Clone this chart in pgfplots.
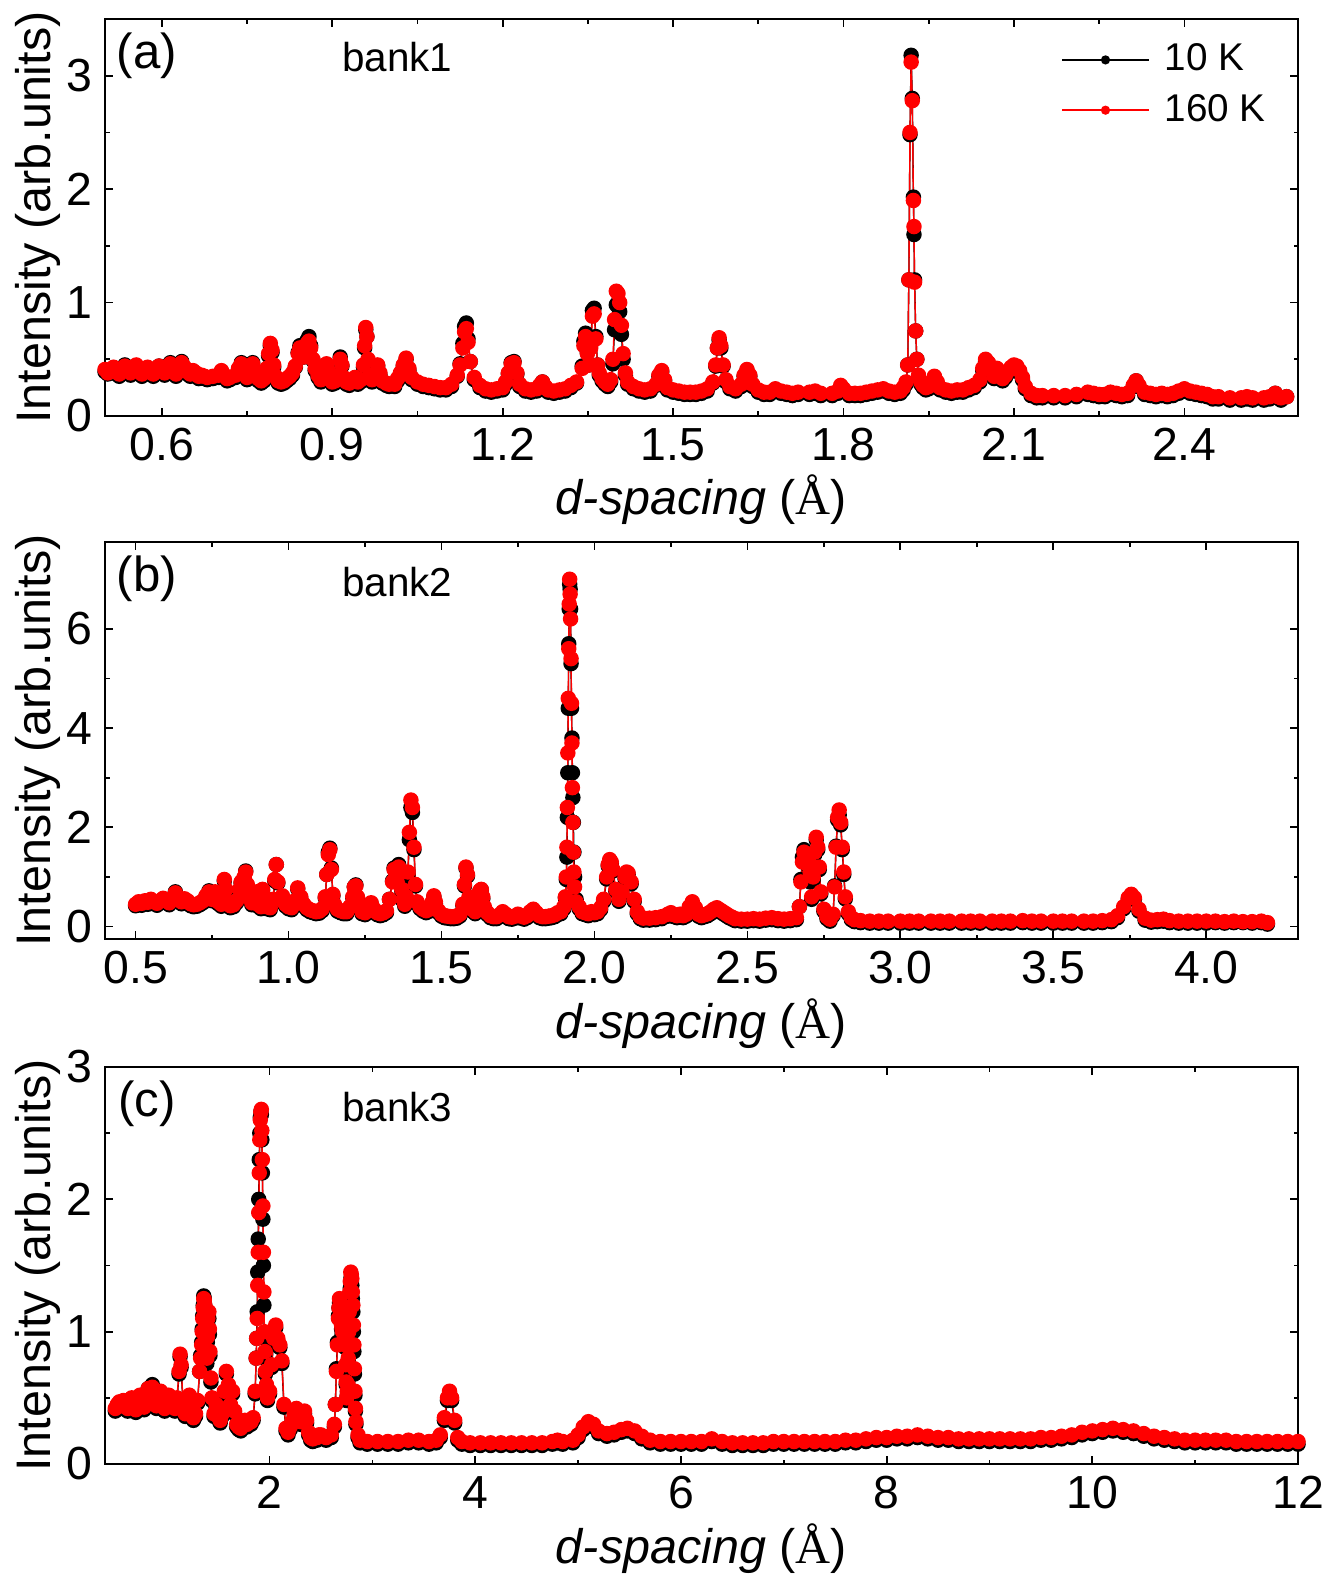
\documentclass[border=0pt]{standalone}
\usepackage{fontspec}
\setmainfont{Liberation Sans}
\newfontfamily\serifA{Liberation Serif}
\usepackage{pgfplots}
\usepackage{pgfplotstable}
\pgfplotsset{compat=1.18}

\pgfplotsset{
  panel/.style={
    scale only axis,
    width=11.93cm,
    axis line style={line width=0.6pt},
    tick align=inside, tick pos=both,
    major tick length=0.08cm, minor tick length=0.045cm,
    every tick/.style={black, line width=0.5pt},
    minor x tick num=1, minor y tick num=1,
    /pgf/number format/assume math mode=true,
    ticklabel style={font=\fontsize{13.2}{15}\selectfont},
    label style={font=\fontsize{13.8}{16}\selectfont},
    xlabel={\textit{d-spacing} ({\serifA Å})},
    ylabel={Intensity (arb.units)},
    xlabel style={at={(axis description cs:0.5,0)}, anchor=base, yshift=-0.99cm},
    ylabel style={at={(axis description cs:-0.056,0.5)}, anchor=center},
  },
  k10/.style={black, line width=0.4pt, mark=*, mark size=2.0pt, mark options={solid, fill=black}},
  k160/.style={red, line width=0.4pt, mark=*, mark size=2.0pt, mark options={solid, fill=red}},
}

\begin{document}

% bank 1
\pgfplotstableread{
d k10 k160
0.500 0.39 0.41
0.505 0.37 0.38
0.510 0.38 0.40
0.515 0.42 0.43
0.520 0.37 0.39
0.525 0.35 0.37
0.530 0.38 0.40
0.535 0.45 0.44
0.540 0.38 0.40
0.545 0.36 0.38
0.550 0.41 0.42
0.555 0.44 0.45
0.560 0.38 0.40
0.565 0.35 0.37
0.570 0.37 0.39
0.575 0.42 0.43
0.580 0.39 0.41
0.585 0.35 0.37
0.590 0.38 0.40
0.595 0.44 0.44
0.600 0.39 0.41
0.605 0.36 0.38
0.610 0.39 0.41
0.615 0.47 0.46
0.620 0.40 0.42
0.625 0.35 0.37
0.630 0.38 0.40
0.635 0.48 0.47
0.640 0.42 0.43
0.645 0.37 0.39
0.650 0.35 0.37
0.655 0.38 0.40
0.660 0.36 0.38
0.665 0.33 0.35
0.670 0.34 0.36
0.675 0.33 0.35
0.680 0.32 0.34
0.690 0.33 0.35
0.700 0.34 0.36
0.705 0.39 0.40
0.710 0.34 0.36
0.715 0.31 0.33
0.720 0.32 0.34
0.730 0.34 0.36
0.735 0.41 0.42
0.740 0.47 0.46
0.745 0.38 0.40
0.750 0.32 0.34
0.755 0.36 0.38
0.760 0.47 0.46
0.765 0.38 0.40
0.770 0.31 0.33
0.775 0.29 0.31
0.780 0.31 0.33
0.785 0.40 0.42
0.788 0.53 0.55
0.791 0.62 0.64
0.794 0.56 0.58
0.797 0.43 0.45
0.800 0.33 0.35
0.805 0.29 0.31
0.810 0.28 0.30
0.815 0.29 0.31
0.820 0.31 0.33
0.825 0.33 0.35
0.830 0.36 0.38
0.835 0.43 0.44
0.840 0.56 0.55
0.843 0.62 0.60
0.846 0.56 0.55
0.850 0.52 0.52
0.853 0.60 0.58
0.856 0.67 0.64
0.859 0.70 0.66
0.862 0.62 0.60
0.866 0.49 0.50
0.870 0.40 0.42
0.875 0.34 0.36
0.880 0.30 0.32
0.885 0.33 0.35
0.890 0.44 0.46
0.893 0.38 0.40
0.897 0.30 0.32
0.900 0.28 0.30
0.905 0.29 0.31
0.910 0.33 0.35
0.914 0.52 0.50
0.917 0.44 0.45
0.920 0.32 0.34
0.925 0.28 0.30
0.930 0.27 0.29
0.935 0.29 0.31
0.940 0.32 0.34
0.945 0.28 0.30
0.950 0.30 0.32
0.955 0.43 0.45
0.957 0.60 0.62
0.959 0.76 0.78
0.961 0.70 0.70
0.963 0.48 0.50
0.966 0.34 0.36
0.970 0.30 0.32
0.975 0.34 0.36
0.980 0.44 0.45
0.984 0.36 0.38
0.988 0.29 0.31
0.995 0.27 0.29
1.000 0.26 0.28
1.010 0.26 0.28
1.015 0.31 0.33
1.020 0.36 0.38
1.025 0.44 0.45
1.030 0.50 0.51
1.035 0.40 0.42
1.040 0.32 0.34
1.050 0.28 0.30
1.060 0.26 0.28
1.070 0.25 0.27
1.080 0.24 0.26
1.090 0.23 0.25
1.100 0.23 0.25
1.110 0.26 0.28
1.120 0.35 0.36
1.125 0.46 0.45
1.130 0.64 0.60
1.133 0.79 0.74
1.136 0.82 0.77
1.139 0.68 0.65
1.143 0.48 0.48
1.150 0.32 0.34
1.160 0.25 0.27
1.170 0.22 0.24
1.180 0.21 0.23
1.190 0.22 0.24
1.200 0.23 0.25
1.205 0.28 0.30
1.210 0.37 0.38
1.215 0.47 0.46
1.220 0.48 0.47
1.225 0.37 0.38
1.230 0.26 0.28
1.240 0.22 0.24
1.250 0.21 0.23
1.260 0.22 0.24
1.265 0.26 0.27
1.270 0.30 0.30
1.275 0.25 0.26
1.280 0.21 0.23
1.290 0.20 0.22
1.300 0.21 0.23
1.310 0.22 0.24
1.320 0.25 0.27
1.330 0.29 0.30
1.340 0.44 0.42
1.343 0.66 0.62
1.346 0.73 0.70
1.349 0.56 0.55
1.352 0.45 0.45
1.355 0.63 0.60
1.358 0.93 0.88
1.361 0.95 0.90
1.364 0.70 0.68
1.367 0.45 0.45
1.370 0.36 0.38
1.375 0.31 0.33
1.380 0.28 0.30
1.385 0.26 0.28
1.390 0.30 0.32
1.394 0.46 0.50
1.397 0.76 0.85
1.400 0.98 1.10
1.403 1.00 1.08
1.406 0.92 1.00
1.409 0.72 0.80
1.412 0.50 0.55
1.416 0.36 0.38
1.420 0.28 0.30
1.430 0.24 0.26
1.440 0.22 0.24
1.450 0.21 0.23
1.460 0.22 0.24
1.470 0.27 0.28
1.475 0.35 0.36
1.480 0.39 0.40
1.485 0.31 0.32
1.490 0.23 0.25
1.500 0.21 0.23
1.510 0.20 0.22
1.520 0.19 0.21
1.530 0.19 0.21
1.540 0.19 0.21
1.550 0.20 0.22
1.560 0.22 0.24
1.570 0.29 0.30
1.575 0.44 0.45
1.578 0.60 0.60
1.581 0.67 0.69
1.584 0.60 0.62
1.588 0.44 0.45
1.593 0.30 0.32
1.600 0.24 0.26
1.610 0.22 0.24
1.620 0.26 0.28
1.625 0.35 0.36
1.630 0.40 0.41
1.635 0.35 0.36
1.640 0.26 0.28
1.650 0.21 0.23
1.660 0.19 0.21
1.670 0.19 0.21
1.680 0.22 0.24
1.690 0.20 0.22
1.700 0.19 0.21
1.710 0.18 0.20
1.720 0.19 0.21
1.740 0.19 0.21
1.750 0.20 0.22
1.760 0.18 0.20
1.780 0.18 0.20
1.790 0.20 0.22
1.795 0.25 0.27
1.800 0.22 0.24
1.810 0.18 0.20
1.820 0.18 0.20
1.830 0.18 0.20
1.840 0.19 0.21
1.850 0.20 0.22
1.860 0.21 0.23
1.870 0.22 0.24
1.880 0.20 0.22
1.890 0.19 0.21
1.900 0.20 0.22
1.905 0.23 0.25
1.910 0.28 0.30
1.913 0.45 0.45
1.915 1.20 1.20
1.917 2.48 2.50
1.919 3.18 3.12
1.921 2.80 2.78
1.923 1.93 1.90
1.924 1.60 1.67
1.925 1.20 1.18
1.927 0.75 0.75
1.929 0.50 0.50
1.932 0.34 0.36
1.936 0.28 0.30
1.940 0.25 0.27
1.945 0.23 0.25
1.950 0.24 0.26
1.955 0.28 0.30
1.960 0.34 0.35
1.965 0.28 0.30
1.970 0.23 0.25
1.980 0.21 0.23
1.990 0.20 0.22
2.000 0.21 0.23
2.010 0.21 0.23
2.020 0.23 0.25
2.030 0.25 0.27
2.040 0.30 0.32
2.045 0.40 0.42
2.050 0.48 0.50
2.055 0.45 0.47
2.060 0.38 0.40
2.065 0.33 0.35
2.070 0.40 0.42
2.075 0.36 0.38
2.080 0.31 0.33
2.085 0.34 0.36
2.090 0.38 0.40
2.095 0.41 0.43
2.100 0.43 0.45
2.105 0.42 0.44
2.110 0.38 0.40
2.115 0.32 0.34
2.120 0.24 0.26
2.130 0.18 0.20
2.140 0.16 0.18
2.150 0.16 0.18
2.170 0.16 0.18
2.190 0.16 0.18
2.210 0.17 0.19
2.230 0.19 0.21
2.240 0.18 0.20
2.250 0.17 0.19
2.260 0.17 0.19
2.270 0.19 0.21
2.280 0.18 0.20
2.290 0.17 0.19
2.300 0.18 0.20
2.310 0.26 0.27
2.315 0.31 0.31
2.320 0.26 0.27
2.330 0.19 0.21
2.340 0.18 0.20
2.350 0.17 0.19
2.360 0.18 0.20
2.370 0.17 0.19
2.380 0.18 0.20
2.390 0.20 0.22
2.400 0.22 0.24
2.410 0.20 0.22
2.420 0.19 0.21
2.430 0.18 0.20
2.440 0.17 0.19
2.450 0.15 0.17
2.460 0.15 0.17
2.480 0.14 0.16
2.500 0.14 0.16
2.510 0.15 0.17
2.520 0.14 0.16
2.540 0.14 0.16
2.550 0.15 0.17
2.560 0.20 0.20
2.565 0.16 0.17
2.570 0.14 0.16
2.580 0.17 0.17
}\bankA

% bank 2
\pgfplotstableread{
d k10 k160
0.50 0.42 0.45
0.51 0.46 0.50
0.52 0.43 0.47
0.53 0.48 0.52
0.54 0.45 0.49
0.55 0.52 0.55
0.56 0.46 0.50
0.57 0.43 0.47
0.58 0.48 0.52
0.59 0.55 0.57
0.60 0.48 0.52
0.61 0.44 0.48
0.62 0.52 0.55
0.63 0.70 0.68
0.64 0.55 0.58
0.65 0.46 0.50
0.66 0.52 0.56
0.67 0.48 0.52
0.68 0.42 0.46
0.69 0.40 0.44
0.70 0.41 0.45
0.71 0.44 0.48
0.72 0.48 0.52
0.73 0.60 0.62
0.74 0.72 0.70
0.75 0.52 0.55
0.76 0.68 0.70
0.77 0.46 0.50
0.78 0.41 0.45
0.785 0.56 0.60
0.79 0.92 0.95
0.795 0.72 0.75
0.80 0.46 0.50
0.81 0.38 0.42
0.82 0.40 0.44
0.83 0.48 0.52
0.84 0.72 0.75
0.845 0.88 0.90
0.85 0.76 0.80
0.855 0.98 1.00
0.86 1.12 1.10
0.865 0.82 0.85
0.87 0.56 0.60
0.88 0.44 0.48
0.89 0.56 0.60
0.895 0.66 0.70
0.90 0.41 0.45
0.91 0.36 0.40
0.915 0.72 0.75
0.92 0.56 0.60
0.93 0.36 0.40
0.94 0.34 0.38
0.95 0.52 0.55
0.955 0.92 0.95
0.96 1.25 1.25
0.965 0.88 0.90
0.97 0.51 0.55
0.98 0.58 0.62
0.99 0.41 0.45
1.00 0.36 0.40
1.01 0.34 0.38
1.02 0.48 0.52
1.03 0.76 0.78
1.04 0.56 0.60
1.05 0.41 0.45
1.06 0.34 0.38
1.07 0.30 0.34
1.08 0.28 0.32
1.09 0.26 0.30
1.10 0.27 0.31
1.11 0.32 0.36
1.12 0.58 0.60
1.125 1.05 1.05
1.13 1.50 1.45
1.135 1.58 1.55
1.14 1.18 1.15
1.145 0.62 0.65
1.15 0.41 0.45
1.16 0.31 0.35
1.17 0.28 0.32
1.18 0.26 0.30
1.19 0.26 0.30
1.20 0.36 0.40
1.21 0.58 0.60
1.215 0.80 0.80
1.22 0.84 0.82
1.225 0.58 0.60
1.23 0.36 0.40
1.24 0.26 0.30
1.25 0.24 0.28
1.26 0.28 0.32
1.27 0.46 0.48
1.28 0.31 0.35
1.29 0.24 0.28
1.30 0.22 0.26
1.31 0.24 0.28
1.32 0.28 0.32
1.33 0.55 0.55
1.34 0.92 0.90
1.345 1.18 1.15
1.35 1.02 1.00
1.355 0.92 0.90
1.36 1.25 1.20
1.365 1.12 1.10
1.37 0.72 0.75
1.375 0.51 0.55
1.38 0.41 0.45
1.385 0.56 0.60
1.39 1.02 1.10
1.395 1.75 1.90
1.40 2.40 2.55
1.405 2.30 2.40
1.41 1.55 1.60
1.415 0.82 0.85
1.42 0.46 0.50
1.43 0.36 0.40
1.44 0.31 0.35
1.45 0.28 0.32
1.46 0.31 0.35
1.47 0.46 0.50
1.475 0.60 0.62
1.48 0.46 0.50
1.49 0.28 0.32
1.50 0.21 0.25
1.51 0.18 0.22
1.52 0.17 0.21
1.53 0.16 0.20
1.54 0.16 0.20
1.55 0.17 0.21
1.56 0.21 0.25
1.57 0.42 0.45
1.575 0.82 0.85
1.58 1.18 1.20
1.585 1.02 1.05
1.59 0.56 0.60
1.60 0.31 0.35
1.61 0.26 0.30
1.62 0.46 0.50
1.625 0.70 0.72
1.63 0.74 0.75
1.635 0.56 0.60
1.64 0.36 0.40
1.65 0.24 0.28
1.66 0.18 0.22
1.67 0.16 0.20
1.68 0.16 0.20
1.69 0.20 0.24
1.70 0.26 0.30
1.71 0.21 0.25
1.72 0.16 0.20
1.73 0.15 0.19
1.74 0.17 0.21
1.75 0.21 0.25
1.76 0.17 0.21
1.77 0.15 0.19
1.78 0.18 0.22
1.79 0.26 0.30
1.80 0.31 0.35
1.81 0.24 0.28
1.82 0.18 0.22
1.83 0.16 0.20
1.84 0.16 0.20
1.85 0.17 0.21
1.86 0.18 0.22
1.87 0.20 0.24
1.88 0.24 0.28
1.89 0.26 0.30
1.90 0.36 0.40
1.905 0.58 0.60
1.908 0.95 1.00
1.91 1.40 1.60
1.9115 2.20 2.40
1.913 3.10 3.50
1.9145 4.40 4.60
1.916 5.70 5.60
1.9175 6.40 6.50
1.919 6.90 7.00
1.9205 6.80 6.70
1.922 6.40 6.20
1.9235 5.30 5.40
1.925 4.40 4.50
1.9265 3.80 3.70
1.928 3.10 2.80
1.9295 2.60 2.10
1.931 2.10 1.50
1.933 1.50 1.10
1.935 1.00 0.80
1.94 0.55 0.50
1.95 0.36 0.40
1.96 0.26 0.30
1.97 0.24 0.28
1.98 0.22 0.26
1.99 0.26 0.30
2.00 0.24 0.28
2.01 0.26 0.30
2.02 0.34 0.38
2.03 0.51 0.55
2.04 0.96 1.00
2.045 1.22 1.25
2.05 1.32 1.35
2.055 1.27 1.30
2.06 1.12 1.15
2.07 0.71 0.75
2.08 0.51 0.55
2.09 0.66 0.70
2.10 0.96 1.00
2.105 1.07 1.10
2.11 1.05 1.08
2.12 0.86 0.90
2.13 0.51 0.55
2.14 0.26 0.30
2.15 0.16 0.20
2.16 0.13 0.17
2.18 0.13 0.17
2.20 0.14 0.18
2.22 0.16 0.20
2.24 0.21 0.25
2.25 0.24 0.28
2.26 0.20 0.24
2.27 0.18 0.22
2.28 0.21 0.25
2.29 0.18 0.22
2.30 0.21 0.25
2.31 0.36 0.40
2.32 0.46 0.50
2.33 0.34 0.38
2.34 0.21 0.25
2.35 0.18 0.22
2.36 0.20 0.24
2.37 0.22 0.26
2.38 0.26 0.30
2.39 0.31 0.35
2.40 0.34 0.38
2.41 0.30 0.34
2.42 0.26 0.30
2.43 0.22 0.26
2.44 0.18 0.22
2.45 0.15 0.19
2.46 0.12 0.16
2.48 0.11 0.15
2.50 0.11 0.15
2.52 0.12 0.16
2.54 0.11 0.15
2.56 0.13 0.17
2.58 0.14 0.18
2.60 0.12 0.16
2.62 0.11 0.15
2.64 0.12 0.16
2.66 0.14 0.18
2.67 0.40 0.40
2.675 0.95 0.90
2.68 1.40 1.30
2.685 1.55 1.50
2.69 1.45 1.45
2.695 1.35 1.40
2.70 1.20 1.30
2.705 0.90 1.10
2.71 0.55 0.60
2.715 0.95 1.00
2.72 1.45 1.50
2.725 1.75 1.80
2.73 1.55 1.60
2.735 1.15 1.20
2.74 0.66 0.70
2.75 0.31 0.35
2.76 0.16 0.20
2.77 0.11 0.15
2.78 0.22 0.25
2.785 0.82 0.80
2.79 1.62 1.60
2.795 2.15 2.20
2.80 2.25 2.35
2.805 2.05 2.10
2.81 1.55 1.60
2.815 1.05 1.10
2.82 0.56 0.60
2.83 0.26 0.30
2.84 0.14 0.18
2.85 0.10 0.14
2.87 0.08 0.12
2.90 0.07 0.11
2.93 0.07 0.11
2.96 0.07 0.11
3.00 0.07 0.11
3.03 0.07 0.11
3.06 0.07 0.11
3.10 0.07 0.11
3.13 0.07 0.11
3.16 0.07 0.11
3.20 0.07 0.11
3.23 0.07 0.11
3.26 0.07 0.11
3.30 0.07 0.11
3.33 0.07 0.11
3.36 0.07 0.11
3.40 0.08 0.12
3.43 0.07 0.11
3.46 0.07 0.11
3.50 0.07 0.11
3.53 0.07 0.11
3.56 0.07 0.11
3.60 0.07 0.11
3.63 0.07 0.11
3.66 0.08 0.12
3.69 0.10 0.14
3.71 0.18 0.22
3.73 0.36 0.40
3.745 0.55 0.58
3.755 0.63 0.65
3.765 0.55 0.58
3.78 0.31 0.35
3.80 0.13 0.17
3.82 0.09 0.13
3.84 0.10 0.14
3.86 0.11 0.15
3.88 0.08 0.12
3.91 0.07 0.11
3.94 0.07 0.11
3.97 0.07 0.11
4.00 0.07 0.11
4.03 0.08 0.11
4.06 0.07 0.10
4.09 0.08 0.11
4.12 0.08 0.10
4.15 0.07 0.10
4.18 0.08 0.11
4.20 0.05 0.08
}\bankB

% bank 3
\pgfplotstableread{
d k10 k160
0.50 0.40 0.42
0.52 0.43 0.45
0.54 0.45 0.47
0.56 0.42 0.44
0.58 0.46 0.48
0.60 0.43 0.45
0.62 0.40 0.42
0.64 0.45 0.47
0.66 0.48 0.50
0.68 0.42 0.44
0.70 0.39 0.41
0.72 0.45 0.47
0.74 0.50 0.52
0.76 0.44 0.46
0.78 0.41 0.43
0.80 0.48 0.50
0.82 0.57 0.57
0.84 0.50 0.52
0.86 0.60 0.58
0.88 0.48 0.50
0.90 0.42 0.44
0.92 0.48 0.50
0.94 0.54 0.55
0.96 0.45 0.47
0.98 0.40 0.42
1.00 0.45 0.47
1.02 0.50 0.52
1.04 0.44 0.46
1.06 0.41 0.43
1.08 0.40 0.42
1.10 0.48 0.50
1.12 0.68 0.70
1.13 0.81 0.83
1.14 0.73 0.75
1.16 0.43 0.45
1.18 0.36 0.38
1.20 0.43 0.45
1.22 0.50 0.52
1.24 0.38 0.40
1.26 0.33 0.35
1.28 0.36 0.38
1.30 0.46 0.48
1.32 0.70 0.70
1.33 0.82 0.80
1.34 0.92 0.90
1.345 1.02 1.00
1.35 1.12 1.10
1.355 1.20 1.18
1.36 1.27 1.25
1.365 1.25 1.24
1.37 1.20 1.20
1.375 1.08 1.08
1.38 0.93 0.95
1.39 0.76 0.80
1.395 0.92 0.96
1.40 1.05 1.10
1.41 1.10 1.15
1.415 0.98 1.02
1.42 0.82 0.85
1.43 0.62 0.65
1.44 0.48 0.50
1.46 0.36 0.38
1.48 0.43 0.45
1.50 0.34 0.36
1.52 0.31 0.33
1.54 0.36 0.38
1.56 0.53 0.55
1.58 0.68 0.70
1.60 0.58 0.60
1.62 0.43 0.45
1.64 0.53 0.55
1.66 0.38 0.40
1.68 0.28 0.30
1.70 0.26 0.28
1.72 0.25 0.27
1.74 0.28 0.30
1.76 0.31 0.33
1.78 0.28 0.30
1.80 0.31 0.33
1.82 0.30 0.32
1.84 0.33 0.35
1.86 0.53 0.55
1.87 0.80 0.80
1.875 0.95 0.95
1.88 1.15 1.10
1.885 1.45 1.35
1.89 1.70 1.60
1.895 2.00 1.90
1.90 2.30 2.20
1.905 2.50 2.45
1.91 2.62 2.60
1.915 2.66 2.66
1.92 2.64 2.68
1.925 2.45 2.52
1.93 2.20 2.30
1.935 1.85 1.95
1.94 1.50 1.60
1.945 1.20 1.30
1.95 0.95 1.00
1.955 0.80 0.85
1.96 0.68 0.70
1.97 0.58 0.60
1.98 0.48 0.50
2.00 0.53 0.55
2.02 0.73 0.75
2.04 0.93 0.95
2.06 1.03 1.05
2.08 0.93 0.95
2.10 0.88 0.90
2.12 0.76 0.78
2.14 0.43 0.45
2.16 0.25 0.27
2.18 0.22 0.24
2.20 0.26 0.28
2.22 0.30 0.32
2.24 0.36 0.38
2.26 0.40 0.42
2.28 0.31 0.33
2.30 0.30 0.32
2.32 0.36 0.38
2.34 0.38 0.40
2.36 0.31 0.33
2.38 0.22 0.24
2.40 0.18 0.20
2.42 0.17 0.19
2.44 0.18 0.20
2.46 0.18 0.20
2.48 0.20 0.22
2.50 0.20 0.22
2.55 0.18 0.20
2.60 0.20 0.22
2.63 0.28 0.30
2.64 0.45 0.45
2.65 0.72 0.70
2.66 0.92 0.90
2.67 1.12 1.10
2.675 1.18 1.18
2.68 1.22 1.25
2.685 1.20 1.23
2.69 1.15 1.20
2.695 1.08 1.12
2.70 1.02 1.05
2.705 0.98 1.02
2.71 0.95 1.00
2.715 1.00 1.05
2.72 1.05 1.10
2.725 1.03 1.08
2.73 1.00 1.05
2.735 0.88 0.90
2.74 0.72 0.75
2.745 0.60 0.62
2.75 0.48 0.50
2.755 0.52 0.55
2.76 0.58 0.60
2.765 0.78 0.80
2.77 0.95 1.00
2.775 1.10 1.15
2.78 1.25 1.30
2.785 1.33 1.38
2.79 1.40 1.45
2.795 1.38 1.43
2.80 1.35 1.40
2.805 1.25 1.30
2.81 1.15 1.20
2.815 1.00 1.05
2.82 0.85 0.90
2.825 0.68 0.72
2.83 0.52 0.55
2.835 0.40 0.42
2.84 0.30 0.32
2.86 0.20 0.22
2.88 0.16 0.18
2.95 0.15 0.17
3.05 0.15 0.17
3.15 0.15 0.17
3.25 0.15 0.17
3.35 0.16 0.18
3.45 0.16 0.18
3.55 0.15 0.17
3.62 0.16 0.18
3.66 0.20 0.22
3.70 0.33 0.35
3.73 0.48 0.50
3.75 0.53 0.55
3.77 0.48 0.50
3.80 0.31 0.33
3.83 0.18 0.20
3.87 0.15 0.17
3.95 0.14 0.16
4.05 0.14 0.16
4.15 0.14 0.16
4.25 0.14 0.16
4.35 0.14 0.16
4.45 0.14 0.16
4.55 0.14 0.16
4.65 0.14 0.16
4.75 0.15 0.17
4.80 0.16 0.18
4.85 0.15 0.17
4.95 0.16 0.18
5.00 0.20 0.22
5.05 0.26 0.28
5.10 0.30 0.32
5.15 0.28 0.30
5.20 0.23 0.25
5.28 0.21 0.23
5.35 0.22 0.24
5.42 0.24 0.26
5.48 0.25 0.27
5.55 0.23 0.25
5.62 0.19 0.21
5.70 0.16 0.18
5.80 0.15 0.17
5.90 0.15 0.17
6.00 0.15 0.17
6.10 0.15 0.17
6.20 0.15 0.17
6.30 0.17 0.19
6.40 0.15 0.17
6.50 0.14 0.16
6.60 0.14 0.16
6.70 0.14 0.16
6.80 0.14 0.16
6.90 0.15 0.17
7.00 0.15 0.17
7.10 0.15 0.17
7.20 0.15 0.17
7.30 0.15 0.17
7.40 0.15 0.17
7.50 0.15 0.17
7.60 0.16 0.18
7.70 0.16 0.18
7.80 0.17 0.19
7.90 0.18 0.20
8.00 0.18 0.20
8.10 0.19 0.21
8.20 0.19 0.21
8.30 0.20 0.22
8.40 0.19 0.21
8.50 0.18 0.20
8.60 0.18 0.20
8.70 0.17 0.19
8.80 0.17 0.19
8.90 0.17 0.19
9.00 0.17 0.19
9.10 0.17 0.19
9.20 0.17 0.19
9.30 0.17 0.19
9.40 0.17 0.19
9.50 0.18 0.20
9.60 0.18 0.20
9.70 0.19 0.21
9.80 0.20 0.22
9.90 0.22 0.24
10.00 0.23 0.25
10.10 0.24 0.26
10.20 0.25 0.27
10.30 0.24 0.26
10.40 0.23 0.25
10.50 0.21 0.23
10.60 0.19 0.21
10.70 0.18 0.20
10.80 0.17 0.19
10.90 0.16 0.18
11.00 0.16 0.18
11.10 0.16 0.18
11.20 0.16 0.18
11.30 0.16 0.18
11.40 0.15 0.17
11.50 0.15 0.17
11.60 0.15 0.17
11.70 0.15 0.17
11.80 0.15 0.17
11.90 0.15 0.17
12.00 0.15 0.17
}\bankC

\begin{tikzpicture}
\useasboundingbox (0,0) rectangle (13.29,-15.83);

% (a) bank1
\begin{axis}[panel, at={(1.05cm,-4.16cm)}, anchor=south west, height=3.97cm,
  xmin=0.5, xmax=2.6, ymin=0, ymax=3.5,
  xtick={0.6,0.9,1.2,1.5,1.8,2.1,2.4}, ytick={0,1,2,3},
  xticklabel style={/pgf/number format/fixed, /pgf/number format/fixed zerofill, /pgf/number format/precision=1},
  legend style={draw=none, fill=none, at={(axis description cs:0.801,0.962)}, anchor=north west,
    font=\fontsize{11}{13}\selectfont, inner sep=0pt, row sep=0pt,
    nodes={inner xsep=0.15cm, inner ysep=0.09cm}},
  legend cell align=left,
  legend image code/.code={\draw[#1, mark size=1.1pt, mark repeat=2, mark phase=2] plot coordinates {(0cm,0cm) (0.435cm,0cm) (0.87cm,0cm)};},
]
\addplot[k10] table[x=d, y=k10] {\bankA};
\addlegendentry{10 K}
\addplot[k160] table[x=d, y=k160] {\bankA};
\addlegendentry{160 K}
\node[font=\fontsize{14}{16}\selectfont] at (axis description cs:0.035,0.908) {(a)};
\node[font=\fontsize{11.5}{13}\selectfont] at (axis description cs:0.245,0.905) {bank1};
\end{axis}

% (b) bank2
\begin{axis}[panel, at={(1.05cm,-9.39cm)}, anchor=south west, height=3.97cm,
  xmin=0.4, xmax=4.3, ymin=-0.25, ymax=7.75,
  xtick={0.5,1.0,1.5,2.0,2.5,3.0,3.5,4.0}, ytick={0,2,4,6},
  xticklabel style={/pgf/number format/fixed, /pgf/number format/fixed zerofill, /pgf/number format/precision=1},
]
\addplot[k10] table[x=d, y=k10] {\bankB};
\addplot[k160] table[x=d, y=k160] {\bankB};
\node[font=\fontsize{14}{16}\selectfont] at (axis description cs:0.035,0.908) {(b)};
\node[font=\fontsize{11.5}{13}\selectfont] at (axis description cs:0.245,0.9) {bank2};
\end{axis}

% (c) bank3
\begin{axis}[panel, at={(1.05cm,-14.64cm)}, anchor=south west, height=3.97cm,
  xmin=0.4, xmax=12, ymin=0, ymax=3,
  xtick={2,4,6,8,10,12}, ytick={0,1,2,3},
]
\addplot[k10] table[x=d, y=k10] {\bankC};
\addplot[k160] table[x=d, y=k160] {\bankC};
\node[font=\fontsize{14}{16}\selectfont] at (axis description cs:0.035,0.908) {(c)};
\node[font=\fontsize{11.5}{13}\selectfont] at (axis description cs:0.245,0.9) {bank3};
\end{axis}
\end{tikzpicture}
\end{document}
